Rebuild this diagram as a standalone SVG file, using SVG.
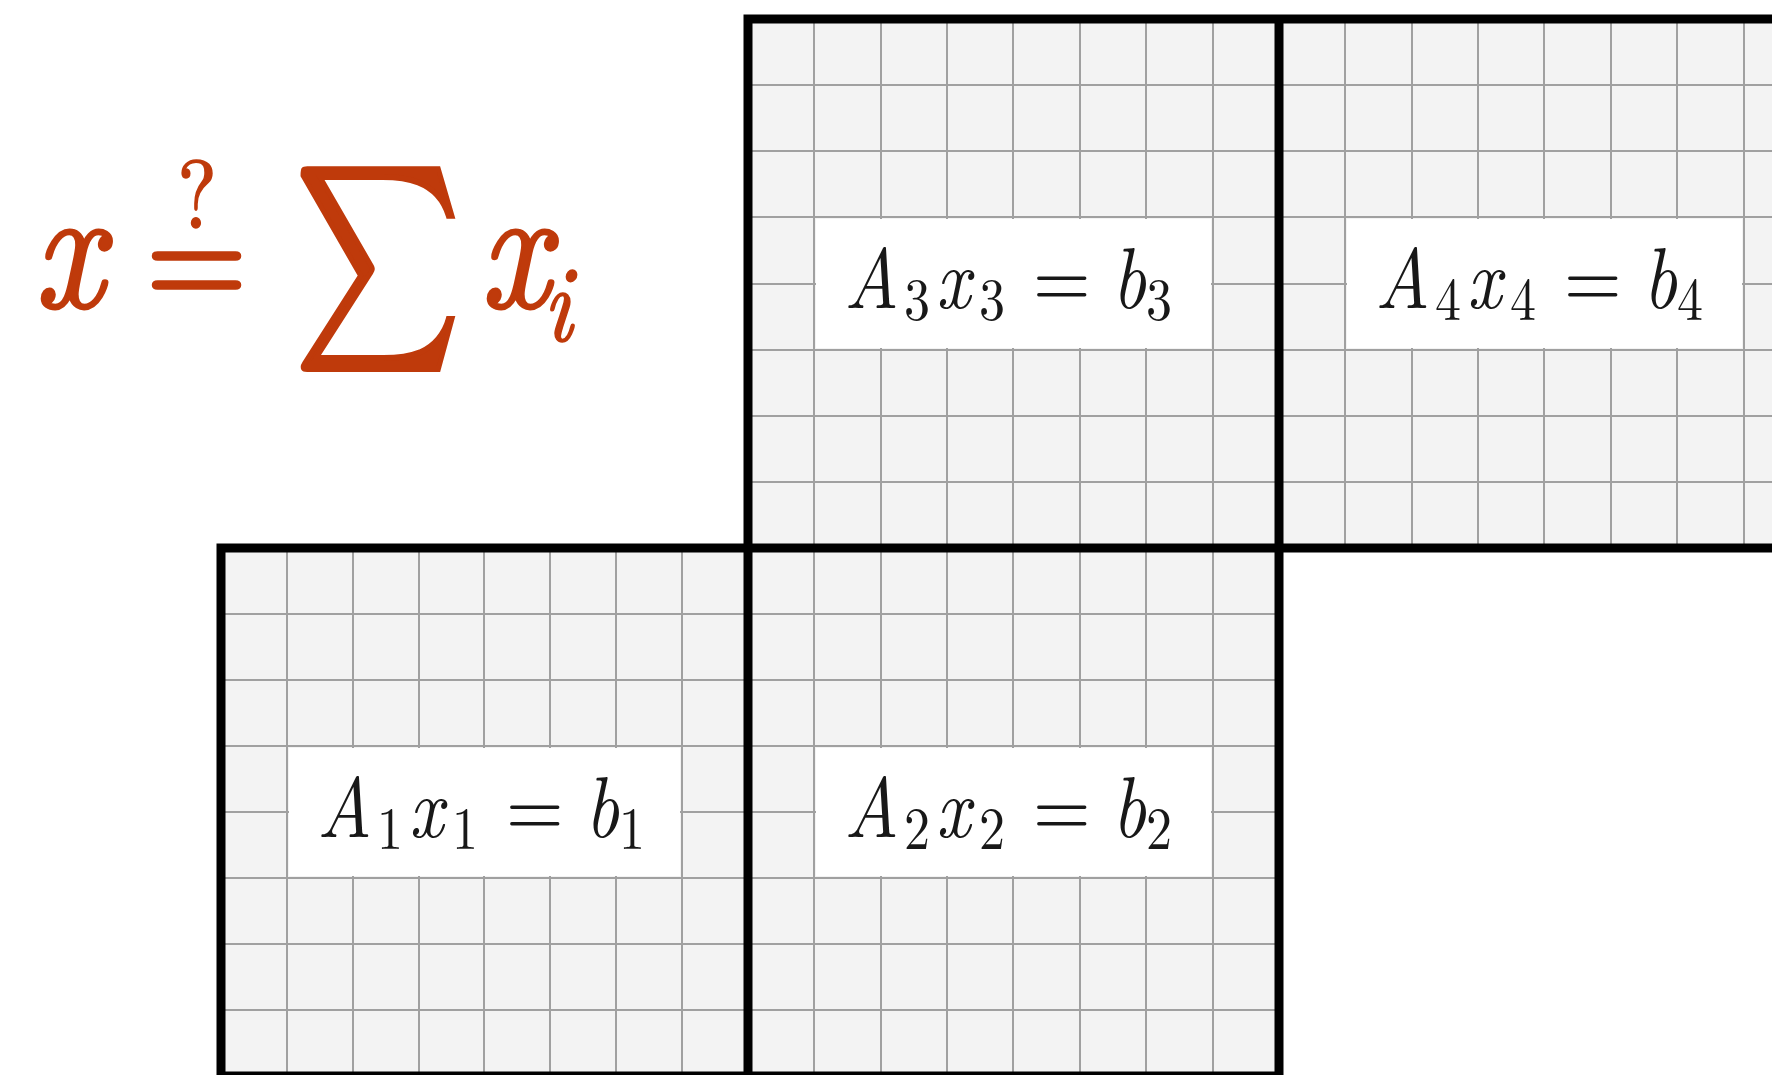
<svg xmlns="http://www.w3.org/2000/svg" width="1772" height="1075" viewBox="0 0 1772 1075">
<style>
.block{fill:#f3f3f3;}
.grid{stroke:#a0a0a0;stroke-width:2;fill:none;}
.thick{stroke:#000;stroke-width:9;fill:none;stroke-linejoin:miter;stroke-linecap:square;}
.box{fill:#ffffff;}
.lbl{font-family:"Latin Modern Roman","CMU Serif",serif;font-size:74px;fill:#181818;}
.it{font-style:italic;}
.sb{font-size:52px;font-style:normal;}
.f{font-family:"Latin Modern Roman","CMU Serif",serif;fill:#bf3a0b;stroke:#bf3a0b;stroke-linejoin:round;}
.fm{font-family:"Latin Modern Math","CMU Serif","Latin Modern Roman",serif;fill:#bf3a0b;stroke:#bf3a0b;stroke-linejoin:miter;}
</style>
<rect width="1772" height="1075" fill="#ffffff"/>

<g id="block-A3">
<rect class="block" x="748" y="19" width="531" height="529"/>
<path class="grid" d="M814 19V548M881 19V548M947 19V548M1013 19V548M1080 19V548M1146 19V548M1213 19V548M748 85H1279M748 151H1279M748 217H1279M748 284H1279M748 350H1279M748 416H1279M748 482H1279"/>
<rect class="box" x="816" y="219" width="395" height="129"/>
<text class="lbl" transform="translate(0,308) scale(1,1.16)"><tspan class="it" x="844" y="0">A</tspan><tspan class="sb" x="904" y="10.3">3</tspan><tspan class="it" x="936" y="0">x</tspan><tspan class="sb" x="979" y="10.3">3</tspan><tspan x="1033" y="0">=</tspan><tspan class="it" x="1112" y="0">b</tspan><tspan class="sb" x="1146" y="10.3">3</tspan></text>
</g>

<g id="block-A4">
<rect class="block" x="1279" y="19" width="531" height="529"/>
<path class="grid" d="M1345 19V548M1412 19V548M1478 19V548M1544 19V548M1611 19V548M1677 19V548M1744 19V548M1279 85H1810M1279 151H1810M1279 217H1810M1279 284H1810M1279 350H1810M1279 416H1810M1279 482H1810"/>
<rect class="box" x="1347" y="219" width="395" height="129"/>
<text class="lbl" transform="translate(0,308) scale(1,1.16)"><tspan class="it" x="1375" y="0">A</tspan><tspan class="sb" x="1435" y="10.3">4</tspan><tspan class="it" x="1467" y="0">x</tspan><tspan class="sb" x="1510" y="10.3">4</tspan><tspan x="1564" y="0">=</tspan><tspan class="it" x="1643" y="0">b</tspan><tspan class="sb" x="1677" y="10.3">4</tspan></text>
</g>

<g id="block-A1">
<rect class="block" x="221" y="548" width="527" height="528"/>
<path class="grid" d="M287 548V1076M353 548V1076M419 548V1076M484 548V1076M550 548V1076M616 548V1076M682 548V1076M221 614H748M221 680H748M221 746H748M221 812H748M221 878H748M221 944H748M221 1010H748"/>
<rect class="box" x="289" y="748" width="391" height="128"/>
<text class="lbl" transform="translate(0,837) scale(1,1.16)"><tspan class="it" x="317" y="0">A</tspan><tspan class="sb" x="377" y="10.3">1</tspan><tspan class="it" x="409" y="0">x</tspan><tspan class="sb" x="452" y="10.3">1</tspan><tspan x="506" y="0">=</tspan><tspan class="it" x="585" y="0">b</tspan><tspan class="sb" x="619" y="10.3">1</tspan></text>
</g>

<g id="block-A2">
<rect class="block" x="748" y="548" width="531" height="528"/>
<path class="grid" d="M814 548V1076M881 548V1076M947 548V1076M1013 548V1076M1080 548V1076M1146 548V1076M1213 548V1076M748 614H1279M748 680H1279M748 746H1279M748 812H1279M748 878H1279M748 944H1279M748 1010H1279"/>
<rect class="box" x="816" y="748" width="395" height="128"/>
<text class="lbl" transform="translate(0,837) scale(1,1.16)"><tspan class="it" x="844" y="0">A</tspan><tspan class="sb" x="904" y="10.3">2</tspan><tspan class="it" x="936" y="0">x</tspan><tspan class="sb" x="979" y="10.3">2</tspan><tspan x="1033" y="0">=</tspan><tspan class="it" x="1112" y="0">b</tspan><tspan class="sb" x="1146" y="10.3">2</tspan></text>
</g>

<g id="borders">
<path class="thick" d="M748 1076V19H1810M221 1076V548H1810M1279 19V1076M221 1076H1279"/>
</g>

<g id="formula">
<text class="f" font-size="150" font-style="italic" stroke-width="2.5" transform="translate(34,307) scale(1,1.16)">x</text>
<text class="f" font-size="130" stroke-width="3" transform="translate(146,308) scale(1,1.16)">=</text>
<text class="f" font-size="83" stroke-width="1.5" text-anchor="middle" transform="translate(197,228) scale(1,1.16)">?</text>
<text class="fm" font-size="172" stroke-width="5" transform="translate(294,319) scale(0.92,1.16)">∑</text>
<text class="f" font-size="150" font-style="italic" stroke-width="2.5" transform="translate(480,307) scale(1,1.16)">x</text>
<text class="f" font-size="94" font-style="italic" stroke-width="1.5" transform="translate(543,341) scale(1,1.16)">i</text>
</g>
</svg>
